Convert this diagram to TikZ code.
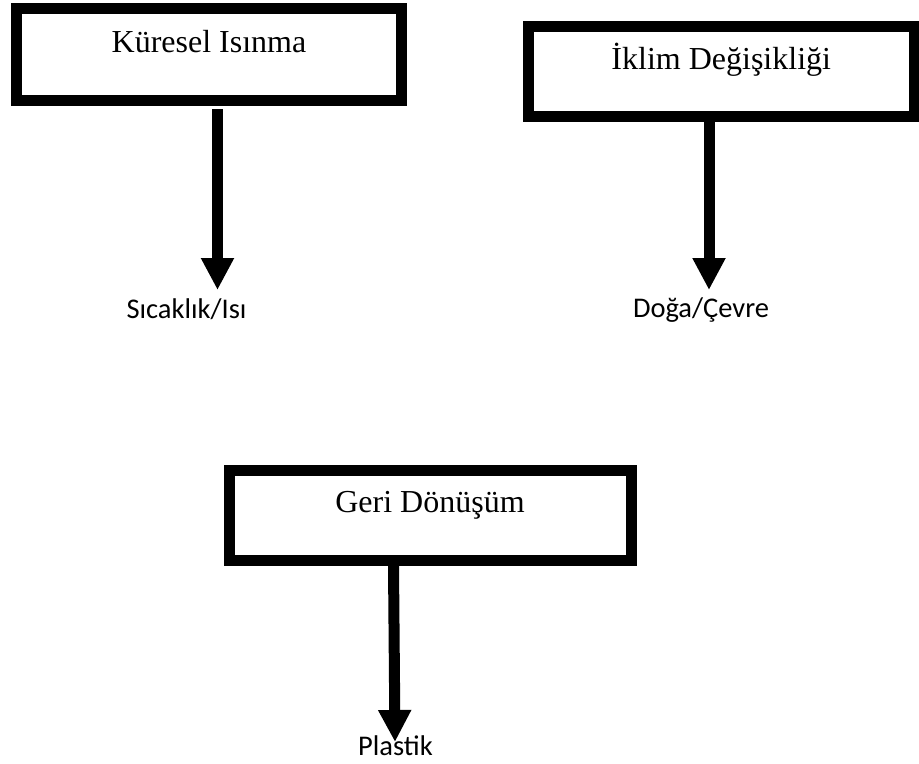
\documentclass[tikz,border=0pt]{standalone}
\usepackage{fontspec}
\setmainfont{Liberation Serif}
\newfontfamily\labelfont{Carlito}
\usetikzlibrary{arrows.meta,calc}
\begin{document}
\begin{tikzpicture}[x=1bp,y=-1bp,
  topicbox/.style={draw=black,line width=11bp,fill=white,inner sep=0pt,
    font=\fontsize{32bp}{38bp}\selectfont},
  leaflabel/.style={anchor=base,inner sep=0pt,
    font=\labelfont\fontsize{28.5bp}{34bp}\selectfont},
  bigarrow/.style={line width=11bp,-{Triangle[width=31bp,length=32bp]}}]
  \useasboundingbox (0,0) rectangle (919,764);

  % topic boxes: text height/depth place the baseline near the top edge
  \node[topicbox,minimum width=385bp,text height=44.5bp,text depth=47.5bp]
    (b1) at (209,54.5) {Küresel Isınma};
  \node[topicbox,minimum width=385.5bp,text height=43.5bp,text depth=46.5bp]
    (b2) at (721.25,71.5) {İklim Değişikliği};
  \node[topicbox,minimum width=402bp,text height=41.5bp,text depth=48bp]
    (b3) at (430,515.25) {Geri Dönüşüm};

  % labels under the arrows
  \node[leaflabel] (l1) at (186.5,318) {Sıcaklık/Isı};
  \node[leaflabel] (l2) at (701,317) {Doğa/Çevre};
  \node[leaflabel] (l3) at (395.5,755) {Plastik};

  % arrow tips
  \coordinate (t1) at (217.5,290);
  \coordinate (t2) at (709,290);
  \coordinate (t3) at (395,742);

  \draw[bigarrow] ($(b1.south)+(8.5,3)$) -- (t1);
  \draw[bigarrow] ($(b2.south)+(-12.25,0)$) -- (t2);
  \draw[bigarrow] ($(b3.south)+(-36.5,0)$) -- (t3);
\end{tikzpicture}
\end{document}
